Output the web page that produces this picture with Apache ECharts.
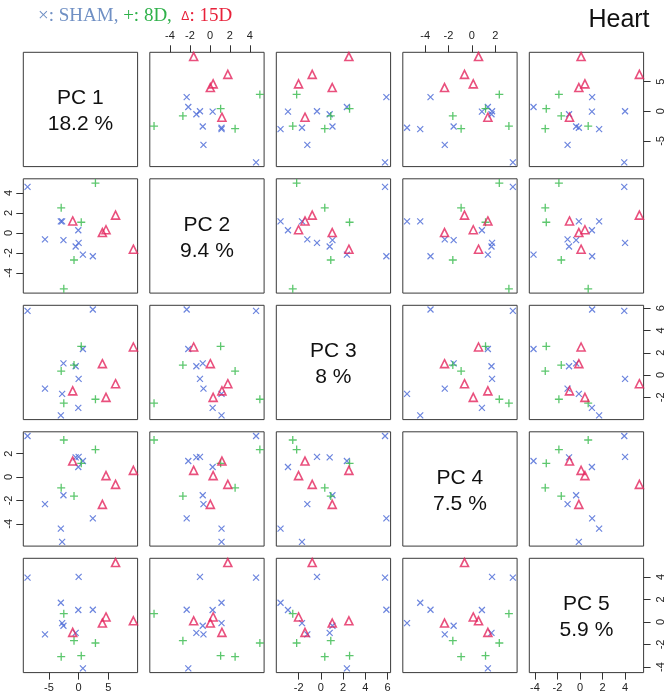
<!DOCTYPE html>
<html><head><meta charset="utf-8">
<script src="https://cdn.jsdelivr.net/npm/echarts@6/dist/echarts.min.js"></script>
<style>html,body{margin:0;padding:0;background:#fff}#c{width:669px;height:699px}</style>
</head><body><div id="c"></div>
<script>
const pcLabels = ['PC 1', 'PC 2', 'PC 3', 'PC 4', 'PC 5'];
const pcVariance = ['18.2 %', '9.4 %', '8 %', '7.5 %', '5.9 %'];
const pcTicks = [[-5, 0, 5], [-4, -2, 0, 2, 4], [-2, 0, 2, 4, 6], [-4, -2, 0, 2], [-4, -2, 0, 2, 4]];

// SHAM
const shamPC1 = [2.39, 0.72, 0.0, -0.06, -0.5, -2.56, -2.78, -3.0, -5.67, -8.61];
const shamPC2 = [-2.33, -2.17, -1.0, 0.27, -1.36, -0.72, 1.16, 1.16, -0.65, 4.62];
const shamPC3 = [5.89, 2.34, -0.35, -2.96, 0.79, 1.04, -1.7, -3.63, -1.22, 5.77];
const shamPC4 = [-3.54, 1.37, 1.73, 0.86, 1.68, -1.56, -5.55, -4.42, -2.32, 3.51];
const shamPC5 = [1.08, -4.12, 4.0, 1.06, -0.97, -0.34, -0.1, 1.7, -1.1, 3.93];
// 8D
const d8PC1 = [2.83, 0.44, -0.78, -2.5, -2.94];
const d8PC2 = [5.0, 1.07, -2.71, -5.6, 2.52];
const d8PC3 = [-2.18, 2.58, 0.89, -2.53, 0.35];
const d8PC4 = [2.35, 1.17, -1.63, 3.17, -0.92];
const d8PC5 = [-1.87, -2.99, -1.66, 0.73, -3.08];
// 15D
const d15PC1 = [9.22, 6.22, 4.61, 4.0, -1.0];
const d15PC2 = [-1.63, 1.79, 0.32, 0.04, 1.2];
const d15PC3 = [2.52, -0.78, -2.01, 1.02, -1.43];
const d15PC4 = [0.57, -0.63, 0.12, -2.34, 1.37];
const d15PC5 = [0.1, 5.27, 0.44, -0.1, -0.93];

const groups = [
  {name: 'SHAM', pcs: [shamPC1, shamPC2, shamPC3, shamPC4, shamPC5], color: '#4766d6',
   symbol: 'path://M0,0L10,10M10,0L0,10', size: 6, lw: 1.2},
  {name: '8D', pcs: [d8PC1, d8PC2, d8PC3, d8PC4, d8PC5], color: '#35b94a',
   symbol: 'path://M5,0L5,10M0,5L10,5', size: 8, lw: 1.3},
  {name: '15D', pcs: [d15PC1, d15PC2, d15PC3, d15PC4, d15PC5], color: '#e3245c',
   symbol: 'triangle', size: 8, lw: 1.6}
];

const N = 5;
const ranges = [];
for (let p = 0; p < N; p++) {
  const all = [].concat(...groups.map(g => g.pcs[p]));
  const lo = Math.min(...all), hi = Math.max(...all);
  const ext = (hi - lo) * 0.04;
  ranges.push([lo - ext, hi + ext]);
}

const X0 = 23.3, Y0 = 52.3, PITCH = 126.5, SIZE = 114.3;
const grids = [], xAxes = [], yAxes = [], series = [], graphics = [];
const labelFont = {fontFamily: 'Liberation Sans', fontSize: 11, color: '#222'};

for (let i = 0; i < N; i++) {
  for (let j = 0; j < N; j++) {
    const k = i * N + j;
    grids.push({left: X0 + j * PITCH, top: Y0 + i * PITCH, width: SIZE, height: SIZE,
      show: true, borderColor: '#3a3a3a', borderWidth: 1, backgroundColor: 'transparent'});
    const topX = (i === 0 && (j === 1 || j === 3));
    const botX = (i === N - 1 && (j === 0 || j === 2 || j === 4));
    const showX = topX || botX;
    xAxes.push({type: 'value', gridIndex: k, min: ranges[j][0], max: ranges[j][1],
      position: topX ? 'top' : 'bottom',
      axisLine: {show: false, onZero: false}, splitLine: {show: false},
      axisTick: {show: showX, length: 7, customValues: pcTicks[j], lineStyle: {color: '#333', width: 1}},
      axisLabel: Object.assign({show: showX, margin: topX ? 11 : 10, customValues: pcTicks[j]}, labelFont)});
    const leftY = (j === 0 && (i === 1 || i === 3));
    const rightY = (j === N - 1 && (i === 0 || i === 2 || i === 4));
    const showY = leftY || rightY;
    yAxes.push({type: 'value', gridIndex: k, min: ranges[i][0], max: ranges[i][1],
      position: rightY ? 'right' : 'left',
      axisLine: {show: false, onZero: false}, splitLine: {show: false},
      axisTick: {show: showY, length: 7, customValues: pcTicks[i], lineStyle: {color: '#333', width: 1}},
      axisLabel: Object.assign({show: showY, rotate: 90, margin: rightY ? 12 : 9, customValues: pcTicks[i]}, labelFont)});
    if (i === j) {
      graphics.push({type: 'text', x: X0 + j * PITCH + SIZE / 2, y: Y0 + i * PITCH + SIZE / 2 + 2,
        style: {text: pcLabels[i] + '\n' + pcVariance[i], fontFamily: 'Liberation Sans', fontSize: 21,
          lineHeight: 26, fill: '#111', align: 'center', verticalAlign: 'middle'}});
      continue;
    }
    groups.forEach(g => {
      const xs = g.pcs[j], ys = g.pcs[i];
      series.push({type: 'scatter', xAxisIndex: k, yAxisIndex: k, silent: true,
        symbol: g.symbol, symbolSize: g.size,
        itemStyle: {color: 'rgba(0,0,0,0)', borderColor: g.color, borderWidth: g.lw},
        data: xs.map((v, n) => [v, ys[n]])});
    });
  }
}

graphics.push({type: 'text', x: 38, y: 7, style: {
  text: '{a|×: SHAM,} {b|+: 8D,}  {c|Δ}{d|: 15D}',
  fontFamily: 'Liberation Serif', fontSize: 19,
  rich: {
    a: {fill: '#7090c4', fontFamily: 'Liberation Serif', fontSize: 19},
    b: {fill: '#2fb14a', fontFamily: 'Liberation Serif', fontSize: 19},
    c: {fill: '#e8213a', fontFamily: 'Liberation Sans', fontSize: 12},
    d: {fill: '#e8213a', fontFamily: 'Liberation Serif', fontSize: 19}
  }}});
graphics.push({type: 'text', x: 619, y: 20, style: {text: 'Heart', fontFamily: 'Liberation Sans',
  fontSize: 25, fill: '#111', align: 'center', verticalAlign: 'middle'}});

const chart = echarts.init(document.getElementById('c'), null, {renderer: 'canvas'});
chart.setOption({animation: false, grid: grids, xAxis: xAxes, yAxis: yAxes, series: series, graphic: graphics});
</script></body></html>
